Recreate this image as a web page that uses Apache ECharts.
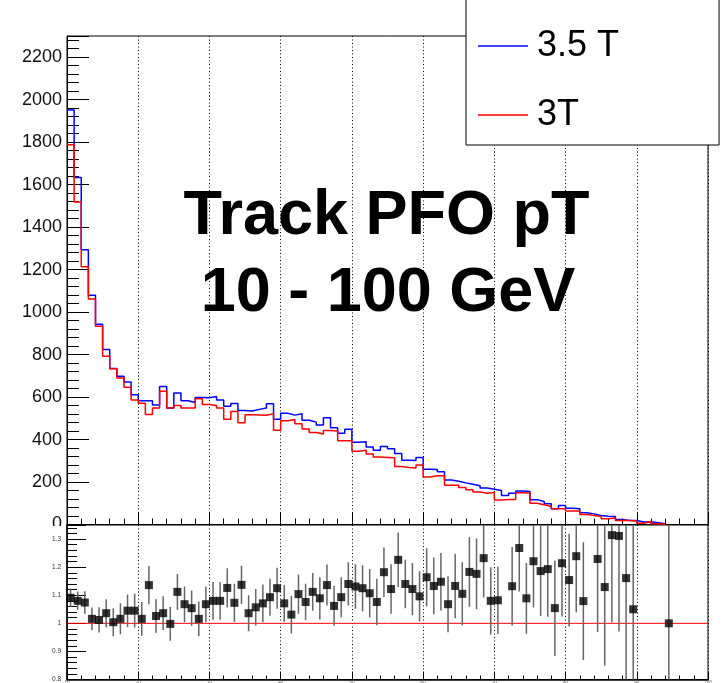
<!DOCTYPE html>
<html>
<head>
<meta charset="utf-8">
<script src="https://cdn.jsdelivr.net/npm/echarts@6/dist/echarts.min.js"></script>
<style>
  html, body { margin: 0; padding: 0; background: #fff; }
  #ratio { position: absolute; left: 0; top: 0; width: 728px; height: 683px; }
  #main  { position: absolute; left: 0; top: 0; width: 728px; height: 526px; overflow: hidden; }
</style>
</head>
<body>
<div id="ratio"></div>
<div id="main"></div>
<script>
// Binning: 1 GeV bins from 10 to 100 GeV
const X_MIN = 10;
const X_MAX = 100;
const BIN_W = 1;

// Track PFO pT histograms (entries per bin), first bin at 10 GeV
const hist35T = [
  1951, 1634, 1294, 1079, 943, 824, 734, 698, 671, 611,
  583, 583, 563, 650, 549, 619, 583, 574, 598, 597,
  603, 586, 557, 570, 537, 534, 542, 549, 569, 496,
  524, 515, 521, 491, 482, 468, 503, 456, 430, 448,
  387, 390, 365, 350, 367, 357, 334, 303, 301, 315,
  260, 259, 248, 209, 204, 196, 190, 182, 172, 166,
  160, 137, 147, 158, 155, 117, 108, 98, 74, 89,
  77, 74, 55, 50, 42, 39, 38, 24, 19, 19,
  12, 13, 8, 3
];
const hist3T = [
  1788, 1518, 1213, 1062, 933, 792, 733, 690, 646, 586,
  571, 518, 549, 627, 549, 560, 549, 549, 592, 565,
  560, 548, 495, 532, 479, 517, 516, 514, 522, 444,
  489, 494, 474, 450, 433, 426, 443, 440, 394, 394,
  345, 350, 332, 318, 316, 314, 273, 268, 266, 280,
  224, 229, 229, 185, 185, 174, 164, 153, 147, 151,
  115, 118, 118, 150, 148, 100, 93, 85, 74, 74,
  63, 63, 47, 42, 38, 27, 31, 19, 19, 16,
  6, 14, 3, 1
];

// Ratio 3.5 T / 3 T per bin and its uncertainty (null = no point)
const ratioVal = [
  1.091, 1.080, 1.074, 1.016, 1.012, 1.036, 1.004, 1.016, 1.045, 1.045,
  1.016, 1.136, 1.026, 1.036, 0.998, 1.112, 1.068, 1.054, 1.016, 1.068,
  1.080, 1.080, 1.126, 1.073, 1.137, 1.036, 1.057, 1.071, 1.093, 1.125,
  1.071, 1.031, 1.104, 1.076, 1.112, 1.089, 1.136, 1.062, 1.093, 1.140,
  1.131, 1.125, 1.107, 1.076, 1.182, 1.122, 1.226, 1.140, 1.122, 1.096,
  1.164, 1.133, 1.148, 1.068, 1.133, 1.105, 1.183, 1.176, 1.232, 1.080,
  1.082, null, 1.132, 1.268, 1.089, 1.221, 1.186, 1.193, 1.054, 1.214,
  1.154, 1.239, 1.079, null, 1.229, 1.129, 1.314, 1.311, 1.161, 1.050,
  null, null, null, null, 1.000
];
const ratioErr = [
  0.033, 0.033, 0.040, 0.040, 0.045, 0.050, 0.050, 0.055, 0.058, 0.060,
  0.060, 0.068, 0.060, 0.060, 0.060, 0.064, 0.063, 0.063, 0.062, 0.063,
  0.067, 0.067, 0.070, 0.068, 0.068, 0.064, 0.065, 0.067, 0.066, 0.073,
  0.065, 0.067, 0.070, 0.065, 0.067, 0.075, 0.073, 0.071, 0.071, 0.077,
  0.079, 0.082, 0.086, 0.083, 0.088, 0.088, 0.097, 0.086, 0.093, 0.089,
  0.103, 0.101, 0.102, 0.100, 0.115, 0.112, 0.124, 0.126, 0.140, 0.120,
  0.120, null, 0.140, 0.155, 0.126, 0.165, 0.160, 0.170, 0.170, 0.190,
  0.165, 0.200, 0.210, null, 0.260, 0.280, 0.310, 0.340, 0.370, 0.420,
  null, null, null, null, 1.000
];

const seriesNames = ['3.5 T', '3T'];
const titleLines = ['Track PFO pT', '10 - 100 GeV'];

const FONT = '"Liberation Sans", Arial, Helvetica, sans-serif';
const plain = v => String(Math.round(v * 1000) / 1000);

// Step outline of a histogram: left edge of each bin, closed down to zero after the last bin
function histSteps(values) {
  const pts = values.map((v, i) => [X_MIN + i * BIN_W, v]);
  pts.push([X_MIN + values.length * BIN_W, 0]);
  return pts;
}

// Ratio points at bin centres
const ratioPts = [];
const ratioBars = [];
ratioVal.forEach((v, i) => {
  if (v === null) return;
  const xc = X_MIN + (i + 0.5) * BIN_W;
  ratioPts.push([xc, v]);
  ratioBars.push([xc, v - ratioErr[i], v + ratioErr[i]]);
});

const dotted = { color: '#000', width: 1, type: [1, 2.5] };

// ---------- upper pad: the two distributions ----------
const main = echarts.init(document.getElementById('main'), null, { renderer: 'canvas' });
main.setOption({
  animation: false,
  grid: {
    left: 67, right: 20, top: 36, bottom: 1.5,
    outerBoundsMode: 'none',
    show: true, borderColor: '#000', borderWidth: 1, backgroundColor: 'transparent'
  },
  xAxis: {
    type: 'value', min: X_MIN, max: X_MAX, interval: 10,
    axisLine: { show: true, onZero: false, lineStyle: { color: '#000', width: 1 } },
    axisTick: { show: true, inside: true, length: 12, lineStyle: { color: '#000' } },
    minorTick: { show: true, splitNumber: 5, length: 6, lineStyle: { color: '#000' } },
    axisLabel: { show: false },
    splitLine: { show: true, lineStyle: dotted }
  },
  yAxis: {
    type: 'value', min: 0, max: 2300, interval: 200,
    axisLine: { show: true, lineStyle: { color: '#000', width: 1 } },
    axisTick: { show: true, inside: true, length: 22, lineStyle: { color: '#000' } },
    minorTick: { show: true, splitNumber: 5, length: 12, lineStyle: { color: '#000' } },
    axisLabel: { fontSize: 18, color: '#111', fontFamily: FONT, margin: 5, showMaxLabel: false, formatter: plain },
    splitLine: { show: false }
  },
  legend: {
    data: seriesNames,
    orient: 'vertical',
    left: 466, top: -1,
    padding: [29, 100, 12, 12],
    itemGap: 33,
    icon: 'rect',
    itemWidth: 50, itemHeight: 1.5,
    backgroundColor: '#fff',
    borderColor: '#000', borderWidth: 1, borderRadius: 0,
    textStyle: { fontSize: 36, color: '#000', fontFamily: FONT, lineHeight: 32, padding: [0, 0, 0, 4] }
  },
  graphic: [
    {
      type: 'text', x: 386.5, y: 185, z: 10,
      style: { text: titleLines[0], font: 'bold 63px ' + FONT, fill: '#000', align: 'center', verticalAlign: 'top' }
    },
    {
      type: 'text', x: 388, y: 262, z: 10,
      style: { text: titleLines[1], font: 'bold 63px ' + FONT, fill: '#000', align: 'center', verticalAlign: 'top' }
    }
  ],
  series: [
    {
      name: seriesNames[0], type: 'line', step: 'end', symbol: 'none',
      data: histSteps(hist35T),
      lineStyle: { color: '#0000ff', width: 1.5 }, itemStyle: { color: '#0000ff' }
    },
    {
      name: seriesNames[1], type: 'line', step: 'end', symbol: 'none',
      data: histSteps(hist3T),
      lineStyle: { color: '#ff0000', width: 1.5 }, itemStyle: { color: '#ff0000' }
    }
  ]
});

// ---------- lower pad: ratio ----------
const ratio = echarts.init(document.getElementById('ratio'), null, { renderer: 'canvas' });
ratio.setOption({
  animation: false,
  grid: {
    left: 67, right: 20, top: 525, bottom: 3.5,
    outerBoundsMode: 'none',
    show: true, borderColor: '#000', borderWidth: 1
  },
  xAxis: {
    type: 'value', min: X_MIN, max: X_MAX, interval: 10,
    axisLine: { show: true, onZero: false, lineStyle: { color: '#000', width: 1.5 } },
    axisTick: { show: true, inside: true, length: 8, lineStyle: { color: '#000' } },
    minorTick: { show: true, splitNumber: 5, length: 4, lineStyle: { color: '#000' } },
    axisLabel: { fontSize: 4.5, color: '#555', fontFamily: FONT, margin: 1 },
    splitLine: { show: true, lineStyle: dotted }
  },
  yAxis: {
    type: 'value', min: 0.8, max: 1.35, interval: 0.1,
    axisLine: { show: true, lineStyle: { color: '#000', width: 1.5 } },
    axisTick: { show: true, inside: true, length: 19, lineStyle: { color: '#000' } },
    minorTick: { show: true, splitNumber: 5, length: 10, lineStyle: { color: '#000' } },
    axisLabel: { fontSize: 6.5, color: '#333', fontFamily: FONT, margin: 6, showMaxLabel: false, formatter: plain },
    splitLine: { show: false }
  },
  series: [
    {
      name: 'unity', type: 'line', symbol: 'none',
      data: [[X_MIN, 1], [X_MAX, 1]],
      lineStyle: { color: '#ff0000', width: 1 }, z: 1
    },
    {
      name: 'ratio errors', type: 'custom', clip: true, z: 2,
      data: ratioBars,
      renderItem: function (params, api) {
        const x = api.value(0);
        const p1 = api.coord([x, api.value(1)]);
        const p2 = api.coord([x, api.value(2)]);
        return {
          type: 'line',
          shape: { x1: p1[0], y1: p1[1], x2: p2[0], y2: p2[1] },
          style: { stroke: '#666', lineWidth: 1.5 }
        };
      }
    },
    {
      name: 'ratio', type: 'scatter', symbol: 'rect', symbolSize: 8, clip: true, z: 3,
      data: ratioPts,
      itemStyle: { color: '#000' }
    }
  ]
});
</script>
</body>
</html>
